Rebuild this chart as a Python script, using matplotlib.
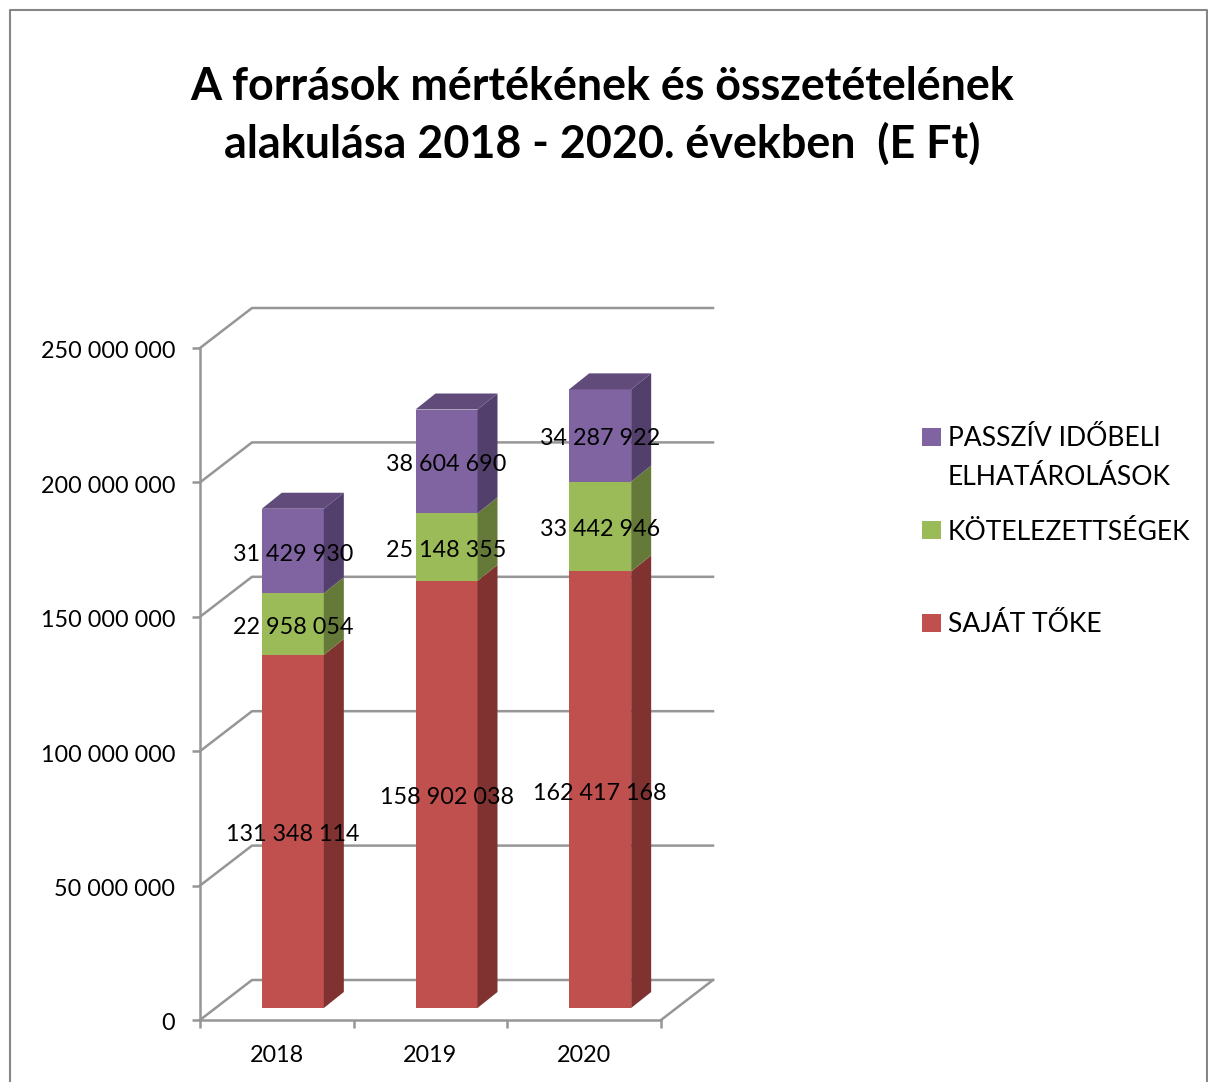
import matplotlib
matplotlib.use("Agg")
import matplotlib.pyplot as plt
from matplotlib.lines import Line2D
from matplotlib.patches import Rectangle
from matplotlib.transforms import ScaledTranslation

plt.rcParams['font.family'] = ['Lato', 'DejaVu Sans']

years = ['2018', '2019', '2020']
sajat_toke = [131348114, 158902038, 162417168]
kotelezettsegek = [22958054, 25148355, 33442946]
passziv = [31429930, 38604690, 34287922]
y_ticks = [0, 50000000, 100000000, 150000000, 200000000, 250000000]
y_labels = ['0', '50 000 000', '100 000 000', '150 000 000', '200 000 000', '250 000 000']
legend_labels = ['PASSZÍV IDŐBELI\nELHATÁROLÁSOK', 'KÖTELEZETTSÉGEK', 'SAJÁT TŐKE']

W, H = 1208, 1082
fig = plt.figure(figsize=(W / 100, H / 100), dpi=100)
ax = fig.add_axes([200 / W, 1 - 1020 / H, 461 / W, 672 / H])
ax.set_xlim(0, 3)
ax.set_ylim(0, 250000000)

# pixel sizes turned into data units, axes are linear
px_x = 3 / 461
px_y = 250000000 / 672
wall_x, wall_y = 52 * px_x, 40 * px_y
bar_x, bar_y = 16 * px_x, 12 * px_y
depth_x, depth_y = 20 * px_x, 16 * px_y
bar_w = 62 * px_x
grey = '#969696'

# back wall and floor
for v in y_ticks:
    ax.plot([0, wall_x, 3 + wall_x], [v, v + wall_y, v + wall_y],
            color=grey, lw=1.8, clip_on=False, zorder=1)
ax.plot([3, 3 + wall_x], [0, wall_y], color=grey, lw=1.8, clip_on=False, zorder=1)

series = [(sajat_toke, '#C0504D', '#7F3230'),
          (kotelezettsegek, '#9BBB59', '#657A39'),
          (passziv, '#8064A2', '#533F6C')]
bottoms = [0, 0, 0]
for values, col, side in series:
    for i, v in enumerate(values):
        left = i + 0.5 + bar_x - bar_w / 2
        right = left + bar_w
        y0 = bottoms[i] + bar_y
        y1 = y0 + v
        ax.bar(left, v, width=bar_w, bottom=y0, align='edge', color=col,
               clip_on=False, zorder=3)
        ax.fill([right, right + depth_x, right + depth_x, right],
                [y0, y0 + depth_y, y1 + depth_y, y1],
                color=side, lw=0, clip_on=False, zorder=3)
        if values is passziv:
            ax.fill([left, left + depth_x, right + depth_x, right],
                    [y1, y1 + depth_y, y1 + depth_y, y1],
                    color='#604B7A', lw=0, clip_on=False, zorder=3)
        ax.text((left + right) / 2, (y0 + y1) / 2 - 3.5 * px_y,
                f'{v:,}'.replace(',', ' '), ha='center', va='center',
                fontsize=16.8, color='black', clip_on=False, zorder=5)
        bottoms[i] += v

for s in ['top', 'right']:
    ax.spines[s].set_visible(False)
for s in ['left', 'bottom']:
    ax.spines[s].set_color(grey)
    ax.spines[s].set_linewidth(1.8)
    ax.spines[s].set_zorder(2)
ax.patch.set_visible(False)

ax.set_yticks(y_ticks, y_labels)
ax.set_xticks([0, 1, 2, 3])
ax.set_xticklabels([])
ax.tick_params(axis='both', color=grey, width=1.8, length=6)
ax.tick_params(axis='y', labelsize=16.8, pad=12)
# labels sit a little under their tick in the original
shift = ScaledTranslation(0, -2 / 100, fig.dpi_scale_trans)
for lab in ax.get_yticklabels():
    lab.set_transform(lab.get_transform() + shift)
for i, y in enumerate(years):
    ax.annotate(y, (i + 0.5, 0), xytext=(0, -35), textcoords='offset pixels',
                ha='center', va='center', fontsize=16.8, annotation_clip=False)

fig.text(602 / W, 1 - 116 / H,
         'A források mértékének és összetételének\nalakulása 2018 - 2020. években  (E Ft)',
         ha='center', va='center', fontsize=32.3, fontweight='bold', linespacing=1.42)

# legend, hand placed since the row gaps are uneven
for label, col, y in zip(legend_labels, ['#8064A2', '#9BBB59', '#C0504D'], [437, 530, 623]):
    fig.add_artist(Rectangle((922 / W, 1 - (y + 9) / H), 19 / W, 18 / H,
                             transform=fig.transFigure, color=col, lw=0))
    fig.text(948 / W, 1 - (y - 10.5) / H, label, ha='left', va='top',
             fontsize=19.1, linespacing=1.69)

# chart frame
fig.add_artist(Line2D([9.5 / W, 9.5 / W, 1206.5 / W, 1206.5 / W],
                      [0, 1 - 10 / H, 1 - 10 / H, 0],
                      transform=fig.transFigure, color='#868686', lw=1.5))

fig.savefig('out.png', dpi=100)
